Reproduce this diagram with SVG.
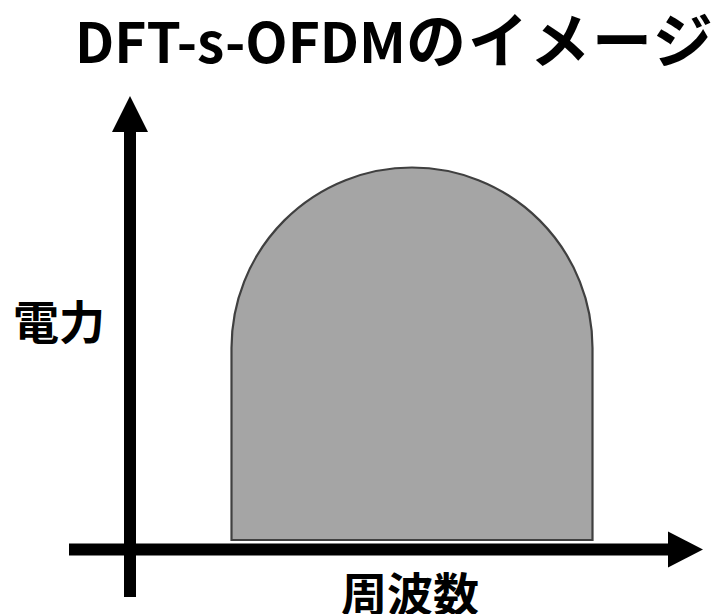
<svg xmlns="http://www.w3.org/2000/svg" width="726" height="614" viewBox="0 0 726 614">
<style>
.t{font-family:"Noto Sans CJK JP","Noto Sans",sans-serif;font-weight:bold;fill:#000}
.ax{fill:#000}
</style>
<rect width="726" height="614" fill="#fff"/>
<g id="title"><text class="t" x="75" y="63" font-size="55">DFT-s-OFDM<tspan font-size="60" letter-spacing="2">のイメージ</tspan></text></g>
<g id="shape"><path d="M231.5,540 L231.5,348 A180.5,180.5 0 0 1 592.5,348 L592.5,540 Z" fill="#a5a5a5" stroke="#404040" stroke-width="2.2"/></g>
<g id="connectors">
<g id="y-axis"><rect class="ax" x="124" y="128" width="12" height="469"/><polygon class="ax" points="130,96 148,132 112,132"/></g>
<g id="x-axis"><rect class="ax" x="69" y="543.5" width="601" height="12"/><polygon class="ax" points="703,549.5 668,531.5 668,567.5"/></g>
</g>
<g id="ylabel"><text class="t" x="13" y="339" font-size="46">電力</text></g>
<g id="xlabel"><text class="t" x="341" y="611" font-size="46">周波数</text></g>
</svg>
